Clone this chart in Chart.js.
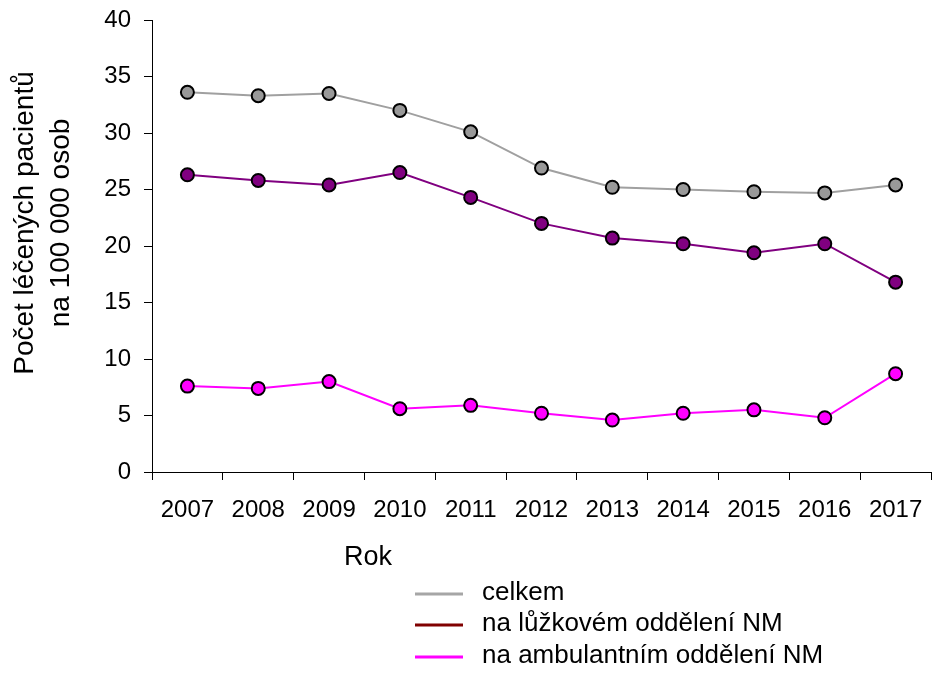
<!DOCTYPE html>
<html lang="cs">
<head>
    <meta charset="UTF-8">
    <title>Počet léčených pacientů</title>
    <script src="https://cdn.jsdelivr.net/npm/chart.js@4"></script>
    <style>
        body { margin: 0; background: #fff; }
        #wrap { width: 932px; height: 673px; }
    </style>
</head>
<body>
    <div id="wrap"><canvas id="chart" width="932" height="673"></canvas></div>
    <script>
        const years = ['2007', '2008', '2009', '2010', '2011', '2012', '2013', '2014', '2015', '2016', '2017'];
        const celkem = [33.6, 33.3, 33.5, 32.0, 30.1, 26.9, 25.2, 25.0, 24.8, 24.7, 25.4];
        const luzkove = [26.3, 25.8, 25.4, 26.5, 24.3, 22.0, 20.7, 20.2, 19.4, 20.2, 16.8];
        const ambulantni = [7.6, 7.4, 8.0, 5.6, 5.9, 5.2, 4.6, 5.2, 5.5, 4.8, 8.7];
        const seriesNames = ['celkem', 'na lůžkovém oddělení NM', 'na ambulantním oddělení NM'];
        const legendColors = ['#a6a6a6', '#800000', '#ff00ff'];
        const yTitle = ['Počet léčených pacientů', 'na 100 000 osob'];
        const xTitle = 'Rok';

        const FONT = '"Liberation Sans", Arial, sans-serif';
        Chart.defaults.font.family = FONT;
        Chart.defaults.font.size = 24;
        Chart.defaults.color = '#000';

        // axis titles and the legend column drawn by hand (excel-like placement)
        const extras = {
            id: 'extras',
            afterDraw(chart) {
                const c = chart.ctx;
                c.save();
                c.fillStyle = '#000';
                c.textBaseline = 'middle';
                c.textAlign = 'center';

                // y title, two lines rotated
                c.font = '28px ' + FONT;
                [25, 61].forEach((x, i) => {
                    c.save();
                    c.translate(x, 223);
                    c.rotate(-Math.PI / 2);
                    c.fillText(yTitle[i], 0, 0);
                    c.restore();
                });

                c.font = '27px ' + FONT;
                c.fillText(xTitle, 368, 558);

                c.textAlign = 'left';
                c.font = '26px ' + FONT;
                const rows = [594, 625, 657];
                chart.data.datasets.forEach((ds, i) => {
                    c.strokeStyle = legendColors[i];
                    c.lineWidth = 3;
                    c.beginPath();
                    c.moveTo(415, rows[i]);
                    c.lineTo(463, rows[i]);
                    c.stroke();
                    c.fillText(ds.label, 482, rows[i] - 1);
                });
                c.restore();
            }
        };

        function series(label, data, color, fill) {
            return {
                label: label,
                data: data,
                borderColor: color,
                borderWidth: 2,
                pointRadius: 6.5,
                pointHoverRadius: 6.5,
                pointBackgroundColor: fill,
                pointBorderColor: '#000',
                pointBorderWidth: 2,
                tension: 0
            };
        }

        new Chart(document.getElementById('chart'), {
            type: 'line',
            data: {
                labels: years,
                datasets: [
                    series(seriesNames[0], celkem, '#a0a0a0', '#999999'),
                    series(seriesNames[1], luzkove, '#800080', '#800080'),
                    series(seriesNames[2], ambulantni, '#ff00ff', '#ff00ff')
                ]
            },
            options: {
                responsive: false,
                animation: false,
                layout: { autoPadding: false, padding: { left: 6, right: 1, top: 20, bottom: 0 } },
                plugins: { legend: { display: false }, tooltip: { enabled: false } },
                scales: {
                    x: {
                        offset: true,
                        grid: { display: true, offset: true, drawOnChartArea: false, tickLength: 8, tickColor: '#000', lineWidth: 1 },
                        border: { color: '#000', width: 1 },
                        // small padding + tall line box keeps labels low without eating the right edge
                        ticks: { padding: 8, maxRotation: 0, autoSkip: false, color: '#000', font: { size: 24, lineHeight: 1.83 } },
                        afterFit(scale) { scale.height = 201; }
                    },
                    y: {
                        min: 0,
                        max: 40,
                        ticks: { stepSize: 5, padding: 13, autoSkip: false, color: '#000', font: { size: 24, lineHeight: 0.5 } },
                        grid: { display: true, drawOnChartArea: false, tickLength: 8, tickColor: '#000' },
                        border: { color: '#000', width: 1 },
                        afterFit(scale) { scale.width = 146; }
                    }
                }
            },
            plugins: [extras]
        });
    </script>
</body>
</html>
